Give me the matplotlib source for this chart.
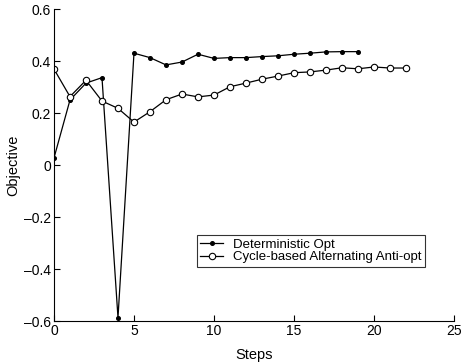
import matplotlib
matplotlib.use("Agg")
import matplotlib.pyplot as plt

plt.rcParams['font.family'] = ['Liberation Sans', 'DejaVu Sans']

steps_det = list(range(0, 20))
det_opt = [0.027, 0.25, 0.315, 0.336, -0.587, 0.43, 0.413, 0.385, 0.396, 0.426,
           0.41, 0.413, 0.413, 0.417, 0.42, 0.426, 0.43, 0.435, 0.436, 0.436]

steps_cyc = list(range(0, 23))
cyc_anti = [0.369, 0.263, 0.326, 0.246, 0.218, 0.165, 0.205, 0.251, 0.273, 0.262,
            0.269, 0.301, 0.315, 0.33, 0.342, 0.355, 0.358, 0.365, 0.374, 0.37,
            0.377, 0.373, 0.373]

xticks = [0, 5, 10, 15, 20, 25]
yticks = [-0.6, -0.4, -0.2, 0, 0.2, 0.4, 0.6]
ytick_labels = ['-0.6', '-0.4', '-0.2', '0', '0.2', '0.4', '0.6']

fig = plt.figure(figsize=(4.61, 3.63), dpi=100)
ax = fig.add_axes([0.1171, 0.1157, 0.8677, 0.8595])

ax.plot(steps_det, det_opt, color='black', lw=0.9, marker='o', ms=2.6,
        mfc='black', mec='black', label='Deterministic Opt')
ax.plot(steps_cyc, cyc_anti, color='black', lw=0.9, marker='o', ms=4.6,
        mfc='white', mec='black', mew=0.8, label='Cycle-based Alternating Anti-opt')

ax.set_xlim(0, 25)
ax.set_ylim(-0.6, 0.6)
ax.set_xticks(xticks)
ax.set_yticks(yticks)
ax.set_yticklabels([t.replace('-', '\u2013') for t in ytick_labels])
ax.tick_params(direction='in', length=4, width=0.8, labelsize=10, pad=2)
for side in ('top', 'right'):
    ax.spines[side].set_visible(False)
for side in ('left', 'bottom'):
    ax.spines[side].set_linewidth(0.8)

ax.set_xlabel('Steps', fontsize=10.5, labelpad=7)
ax.set_ylabel('Objective', fontsize=10.5, labelpad=3)

leg = ax.legend(loc='upper right', bbox_to_anchor=(425 / 461, 1 - 235 / 363),
                bbox_transform=fig.transFigure, fontsize=9.5, frameon=True,
                fancybox=False, edgecolor='black', borderpad=0.25,
                handlelength=1.75, handletextpad=0.75, labelspacing=0.05,
                borderaxespad=0)
leg.get_frame().set_linewidth(0.8)

fig.savefig('out.png', dpi=100)
